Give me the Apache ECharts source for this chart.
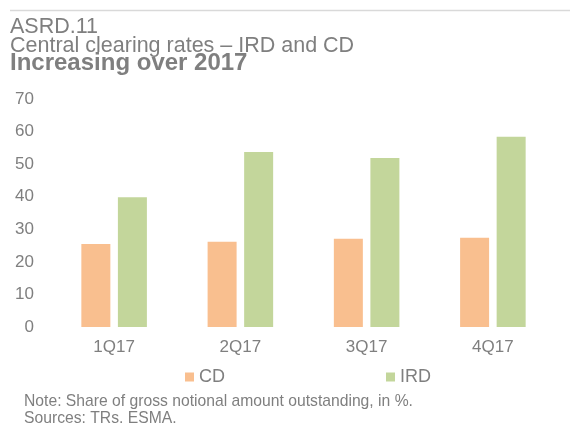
<!DOCTYPE html>
<html>
<head>
<meta charset="utf-8">
<script src="https://cdn.jsdelivr.net/npm/echarts@6/dist/echarts.min.js"></script>
<style>
    html, body { margin: 0; padding: 0; background: #fff; }
    #chart { width: 578px; height: 423px; }
</style>
</head>
<body>
<div id="chart"></div>
<script>
    // data
    var quarters = ['1Q17', '2Q17', '3Q17', '4Q17'];
    var cdRates = [25.5, 26.2, 27.1, 27.4];
    var irdRates = [39.8, 53.7, 51.9, 58.4];
    var yTicks = [0, 10, 20, 30, 40, 50, 60, 70];

    var grey = '#7f7f7f';
    var font = '"Liberation Sans", Arial, sans-serif';

    var chart = echarts.init(document.getElementById('chart'));
    var option = {
        backgroundColor: '#fff',
        animation: false,
        textStyle: { fontFamily: font },
        title: [
            { text: 'ASRD.11', left: 10, top: 16, padding: 0, textStyle: { fontSize: 21.5, fontWeight: 'normal', color: grey, fontFamily: font } },
            { text: 'Central clearing rates – IRD and CD', left: 10, top: 35, padding: 0, textStyle: { fontSize: 21.5, fontWeight: 'normal', color: grey, fontFamily: font } },
            { text: 'Increasing over 2017', left: 10, top: 51, padding: 0, textStyle: { fontSize: 24, fontWeight: 'bold', color: grey, fontFamily: font } }
        ],
        graphic: [
            { type: 'line', shape: { x1: 10, y1: 10.5, x2: 570, y2: 10.5 }, style: { stroke: '#d9d9d9', lineWidth: 1.5 } },
            { type: 'text', left: 24, top: 393, style: { text: 'Note: Share of gross notional amount outstanding, in %.\nSources: TRs, ESMA.', fill: grey, font: '15.7px ' + font, lineHeight: 17 } }
        ],
        legend: {
            data: ['CD', 'IRD'],
            left: 185,
            top: 368,
            padding: 0,
            icon: 'rect',
            itemWidth: 9,
            itemHeight: 9,
            itemGap: 161,
            textStyle: { fontSize: 18, color: grey, fontFamily: font }
        },
        grid: { left: 51, right: 22, top: 99, bottom: 96, containLabel: false },
        xAxis: {
            type: 'category',
            data: quarters,
            axisLine: { show: false },
            axisTick: { show: false },
            axisLabel: { fontSize: 17, color: grey, margin: 12, fontFamily: font }
        },
        yAxis: {
            type: 'value',
            min: yTicks[0],
            max: yTicks[yTicks.length - 1],
            interval: 10,
            splitLine: { show: false },
            axisLine: { show: false },
            axisTick: { show: false },
            axisLabel: { fontSize: 17, color: grey, margin: 17, fontFamily: font }
        },
        series: [
            { name: 'CD', type: 'bar', data: cdRates, barWidth: 29, barGap: '26%', itemStyle: { color: '#f9bf8f' } },
            { name: 'IRD', type: 'bar', data: irdRates, barWidth: 29, itemStyle: { color: '#c3d69b' } }
        ]
    };
    chart.setOption(option);
</script>
</body>
</html>
